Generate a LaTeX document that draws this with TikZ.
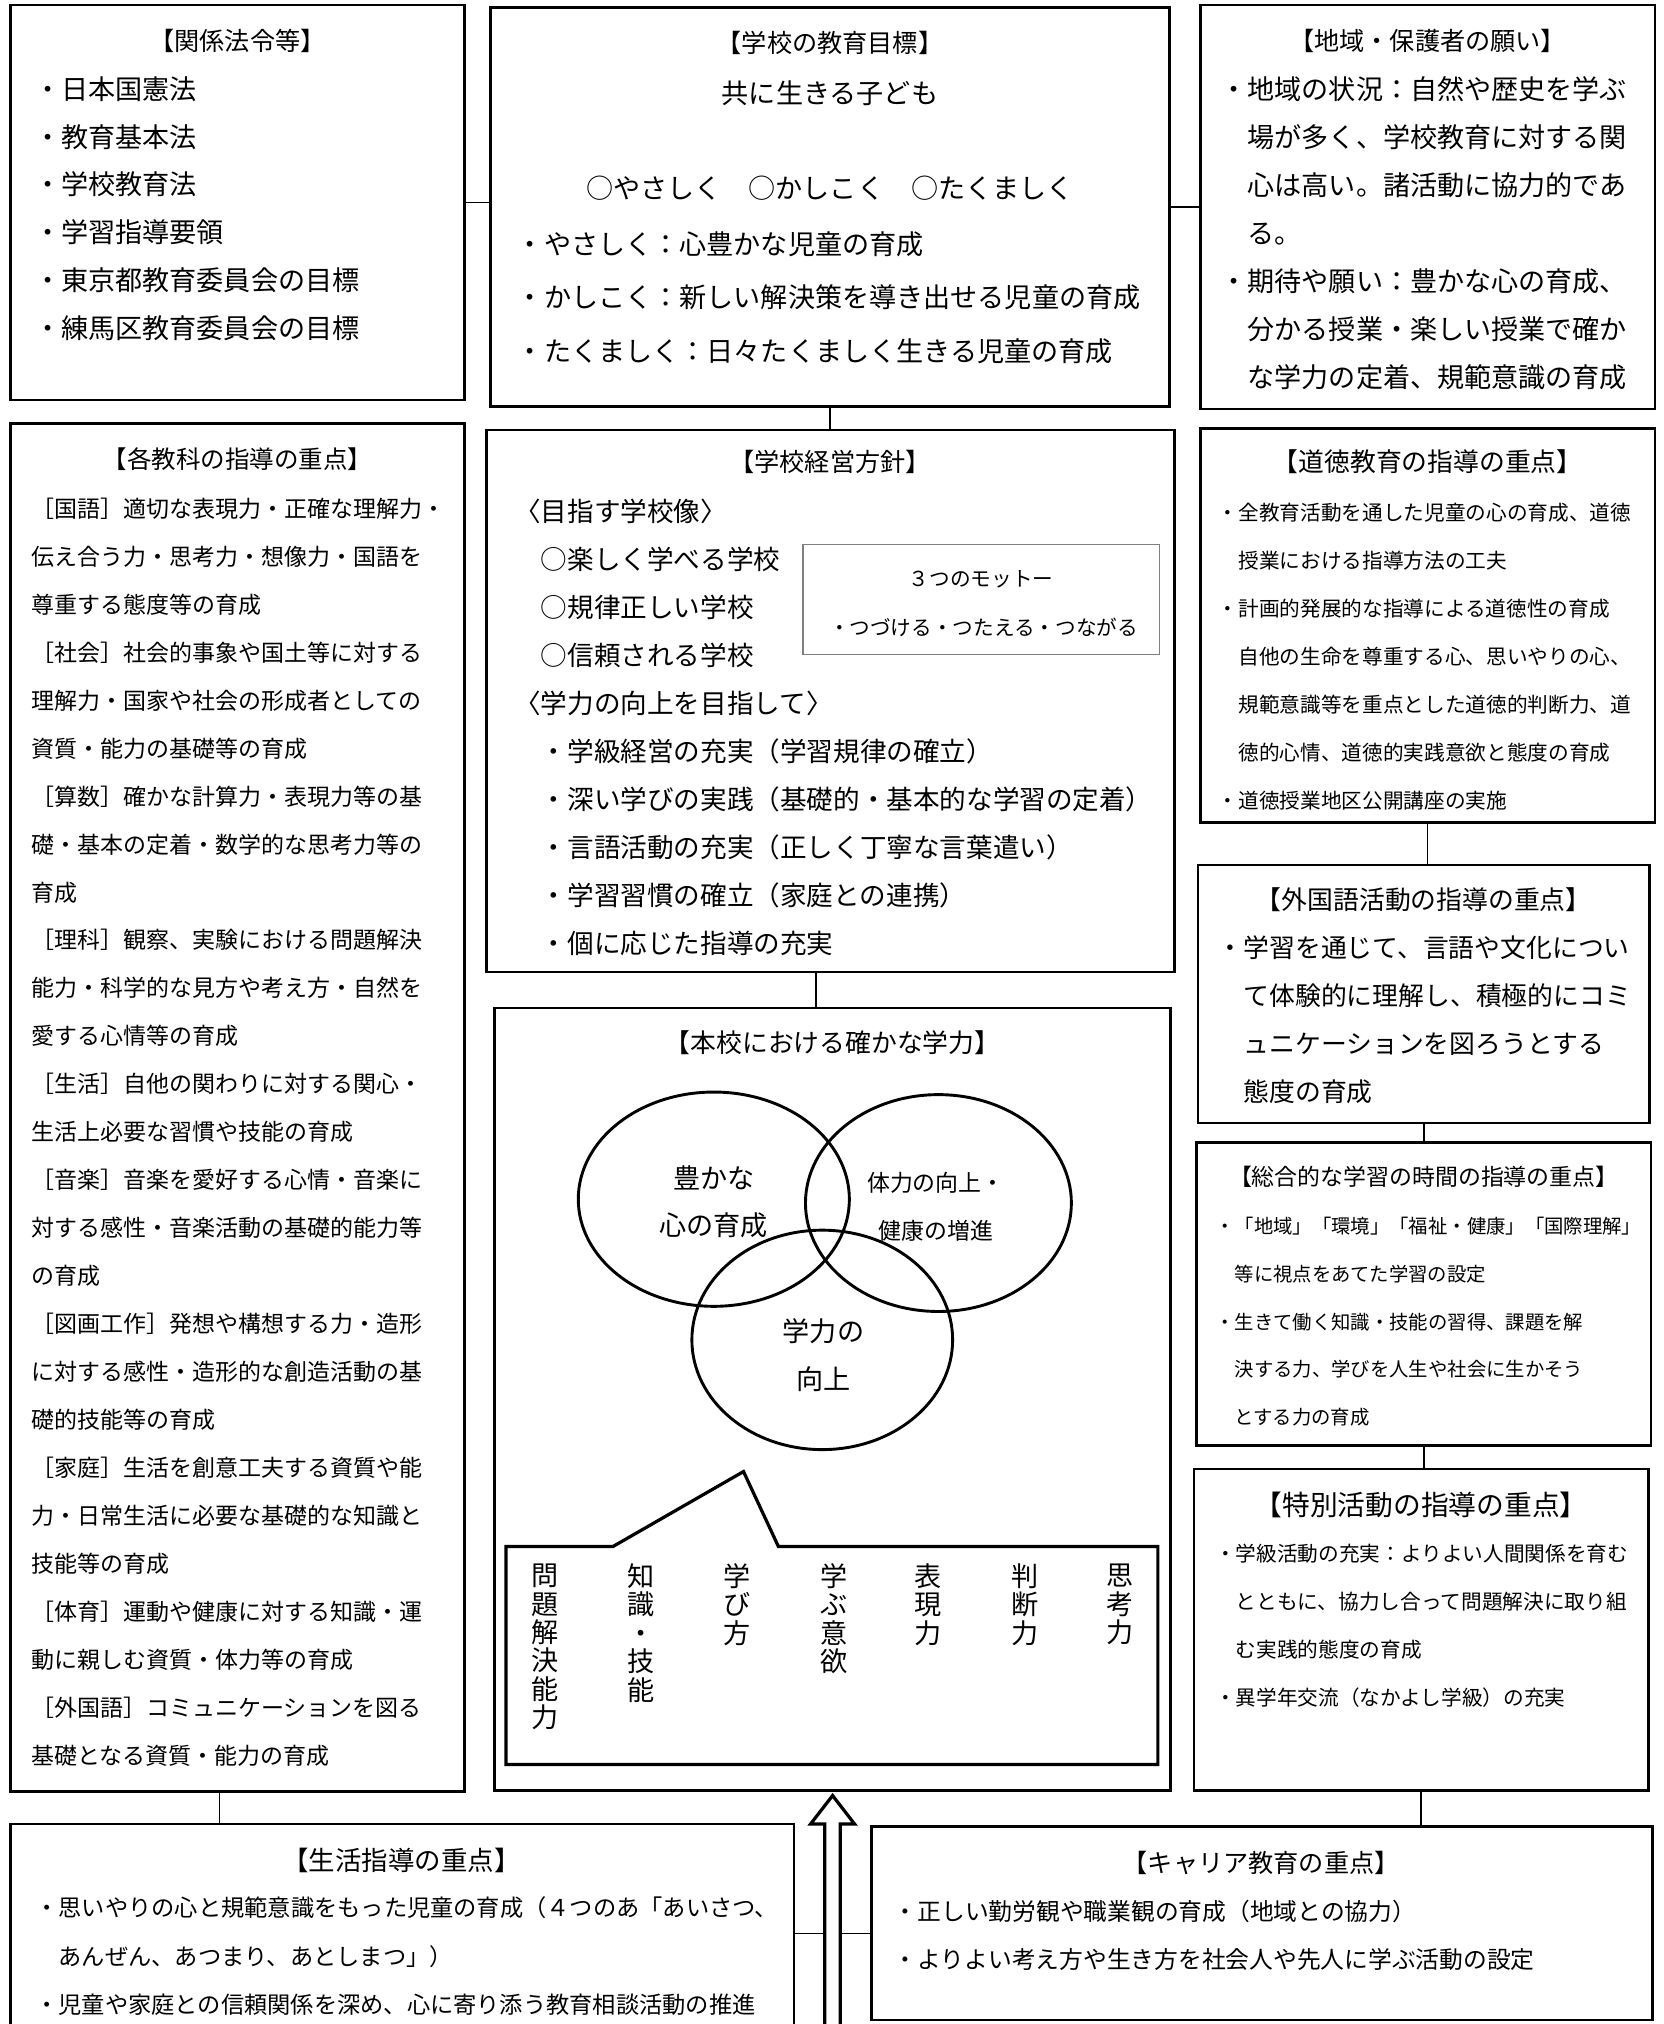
\documentclass[tikz,border=0pt]{standalone}
\usepackage{fontspec}
\setmainfont{Noto Sans CJK JP}
\usetikzlibrary{fit}
\newcommand{\fsz}[2]{\fontsize{#1}{#2}\selectfont}

\begin{document}
\begin{tikzpicture}[x=0.4pt, y=-0.4pt,
  frame/.style={draw, line width=0.8pt, inner sep=0pt},
  link/.style={line width=0.5pt},
  ttl/.style={inner sep=0pt},
  body/.style={inner sep=0pt, anchor=west, align=left},
  vert/.style={inner sep=0pt, align=center, font=\fsz{8.4pt}{8.8pt}}]
\useasboundingbox (0,0) rectangle (1289,1568);
\clip (0,0) rectangle (1289,1568);

\node[frame, fit={(8,4) (360,310)}] (hourei) {};
\node[frame, fit={(380,6) (906,315)}] (mokuhyo) {};
\node[frame, fit={(930,4) (1282,317)}] (negai) {};
\node[frame, fit={(377,333) (910,753)}] (houshin) {};
\node[draw, gray, line width=0.4pt, inner sep=0pt, fit={(622,422) (898,507)}] (motto) {};
\node[frame, fit={(383,781) (907,1387)}] (gakuryoku) {};
\node[frame, fit={(8,328) (360,1388)}] (kyouka) {};
\node[frame, fit={(930,332) (1282,637)}] (doutoku) {};
\node[frame, fit={(928,670) (1278,870)}] (gaikokugo) {};
\node[frame, fit={(927,885) (1279,1120)}] (sougou) {};
\node[frame, fit={(925,1138) (1277,1387)}] (tokkatsu) {};
\node[frame, fit={(8,1413) (615,1640)}] (seikatsu) {};
\node[frame, fit={(675,1415) (1280,1565)}] (career) {};

\draw[link] (hourei.east) -- (hourei.east -| mokuhyo.west);
\draw[link] (mokuhyo.east) -- (mokuhyo.east -| negai.west);
\draw[link] (mokuhyo.south) -- (mokuhyo.south |- houshin.north);
\coordinate (hg) at ([xshift=-4.6pt]houshin.south);
\draw[link] (hg) -- (hg |- gakuryoku.north);
\coordinate (ks) at ([xshift=-5.6pt]kyouka.south);
\draw[link] (ks) -- (ks |- seikatsu.north);
\draw[link] (doutoku.south) -- (doutoku.south |- gaikokugo.north);
\draw[link] (gaikokugo.south) -- (gaikokugo.south |- sougou.north);
\draw[link] (sougou.south) -- (sougou.south |- tokkatsu.north);
\draw[link] (tokkatsu.south) -- (tokkatsu.south |- career.north);
\coordinate (sc) at ([yshift=-34.4pt]seikatsu.north east);
\draw[link] (sc) -- (sc -| career.west);

\coordinate (tip) at ([yshift=-1.2pt]gakuryoku.south);
\draw[line width=1pt, fill=white] (tip) -- ++(-17,22) -- ++(11,0) -- ++(0,220) -- ++(12,0) -- ++(0,-220) -- ++(11,0) -- cycle;

\node[ttl, font=\fsz{7.8pt}{9pt}] (houreiT) at (184,32) {【関係法令等】};
\node[body, font=\fsz{8.4pt}{14.8pt}] (houreiB) at (26,161.5) {・日本国憲法\\
・教育基本法\\
・学校教育法\\
・学習指導要領\\
・東京都教育委員会の目標\\
・練馬区教育委員会の目標};

\node[ttl, font=\fsz{7.8pt}{9pt}] (mokuhyoT) at (643,33) {【学校の教育目標】};
\node[ttl, font=\fsz{8.4pt}{10pt}] (mokuhyoS) at (643,72) {共に生きる子ども};
\node[ttl, font=\fsz{8.4pt}{10pt}] (mokuhyoM) at (643,146) {○やさしく　○かしこく　○たくましく};
\node[body, font=\fsz{8.4pt}{16.6pt}] (mokuhyoB) at (400,230.5) {・やさしく：心豊かな児童の育成\\
・かしこく：新しい解決策を導き出せる児童の育成\\
・たくましく：日々たくましく生きる児童の育成};

\node[ttl, font=\fsz{7.8pt}{9pt}] (negaiT) at (1106,32) {【地域・保護者の願い】};
\node[body, font=\fsz{8.4pt}{14.88pt}] (negaiB) at (945,180.5) {・地域の状況：自然や歴史を学ぶ\\
　場が多く、学校教育に対する関\\
　心は高い。諸活動に協力的であ\\
　る。\\
・期待や願い：豊かな心の育成、\\
　分かる授業・楽しい授業で確か\\
　な学力の定着、規範意識の育成};

\node[ttl, font=\fsz{7.8pt}{9pt}] (houshinT) at (643,358) {【学校経営方針】};
\node[body, font=\fsz{8.24pt}{14.88pt}] (houshinB) at (398,563.5) {〈目指す学校像〉\\
　○楽しく学べる学校\\
　○規律正しい学校\\
　○信頼される学校\\
〈学力の向上を目指して〉\\
　・学級経営の充実（学習規律の確立）\\
　・深い学びの実践（基礎的・基本的な学習の定着）\\
　・言語活動の充実（正しく丁寧な言葉遣い）\\
　・学習習慣の確立（家庭との連携）\\
　・個に応じた指導の充実};
\node[ttl, font=\fsz{6.4pt}{8pt}] (mottoT) at (760,449) {３つのモットー};
\node[ttl, font=\fsz{6.4pt}{8pt}] (mottoB) at (762,486) {・つづける・つたえる・つながる};

\node[ttl, font=\fsz{8pt}{9pt}] (gakuryokuT) at (645,808) {【本校における確かな学力】};
\draw[line width=0.9pt] (553,929) ellipse [x radius=105, y radius=83];
\draw[line width=0.9pt] (727,932) ellipse [x radius=103, y radius=84];
\draw[line width=0.9pt] (637,1038) ellipse [x radius=101, y radius=85];
\node[ttl, align=center, font=\fsz{8.4pt}{14.8pt}] (kokoro) at (553,931) {豊かな\\心の育成};
\node[ttl, align=center, font=\fsz{7.1pt}{14.8pt}] (tairyoku) at (725,935) {体力の向上・\\健康の増進};
\node[ttl, align=center, font=\fsz{8.4pt}{14.8pt}] (koujou) at (638,1050) {学力の\\向上};
\draw[line width=1pt] (392,1198) -- (475,1198) -- (576,1140) -- (603,1198) -- (897,1198) -- (897,1367) -- (392,1367) -- cycle;
\node[vert] (mondai) at (422,1276) {問\\題\\解\\決\\能\\力};
\node[vert] (chishiki) at (497,1265) {知\\識\\・\\技\\能};
\node[vert] (manabikata) at (571,1243) {学\\び\\方};
\node[vert] (iyoku) at (646,1254) {学\\ぶ\\意\\欲};
\node[vert] (hyougen) at (719,1243) {表\\現\\力};
\node[vert] (handan) at (794,1243) {判\\断\\力};
\node[vert] (shikou) at (868,1243) {思\\考\\力};

\node[ttl, font=\fsz{7.6pt}{9pt}] (kyoukaT) at (184,356) {【各教科の指導の重点】};
\node[body, font=\fsz{7.12pt}{14.86pt}] (kyoukaB) at (24,877) {［国語］適切な表現力・正確な理解力・\\
伝え合う力・思考力・想像力・国語を\\
尊重する態度等の育成\\
［社会］社会的事象や国土等に対する\\
理解力・国家や社会の形成者としての\\
資質・能力の基礎等の育成\\
［算数］確かな計算力・表現力等の基\\
礎・基本の定着・数学的な思考力等の\\
育成\\
［理科］観察、実験における問題解決\\
能力・科学的な見方や考え方・自然を\\
愛する心情等の育成\\
［生活］自他の関わりに対する関心・\\
生活上必要な習慣や技能の育成\\
［音楽］音楽を愛好する心情・音楽に\\
対する感性・音楽活動の基礎的能力等\\
の育成\\
［図画工作］発想や構想する力・造形\\
に対する感性・造形的な創造活動の基\\
礎的技能等の育成\\
［家庭］生活を創意工夫する資質や能\\
力・日常生活に必要な基礎的な知識と\\
技能等の育成\\
［体育］運動や健康に対する知識・運\\
動に親しむ資質・体力等の育成\\
［外国語］コミュニケーションを図る\\
基礎となる資質・能力の育成};

\node[ttl, font=\fsz{8pt}{9pt}] (doutokuT) at (1106,358) {【道徳教育の指導の重点】};
\node[body, font=\fsz{6.4pt}{14.87pt}] (doutokuB) at (943,508.5) {・全教育活動を通した児童の心の育成、道徳\\
　授業における指導方法の工夫\\
・計画的発展的な指導による道徳性の育成\\
　自他の生命を尊重する心、思いやりの心、\\
　規範意識等を重点とした道徳的判断力、道\\
　徳的心情、道徳的実践意欲と態度の育成\\
・道徳授業地区公開講座の実施};

\node[ttl, font=\fsz{8pt}{9pt}] (gaikokugoT) at (1103,697) {【外国語活動の指導の重点】};
\node[body, font=\fsz{8pt}{14.92pt}] (gaikokugoB) at (943,790) {・学習を通じて、言語や文化につい\\
　て体験的に理解し、積極的にコミ\\
　ュニケーションを図ろうとする\\
　態度の育成};

\node[ttl, font=\fsz{7.1pt}{9pt}] (sougouT) at (1103,912) {【総合的な学習の時間の指導の重点】};
\node[body, font=\fsz{6pt}{14.8pt}] (sougouB) at (941,1024) {・「地域」「環境」「福祉・健康」「国際理解」\\
　等に視点をあてた学習の設定\\
・生きて働く知識・技能の習得、課題を解\\
　決する力、学びを人生や社会に生かそう\\
　とする力の育成};

\node[ttl, font=\fsz{8.6pt}{10pt}] (tokkatsuT) at (1101,1166) {【特別活動の指導の重点】};
\node[body, font=\fsz{6.4pt}{14.8pt}] (tokkatsuB) at (941,1259.5) {・学級活動の充実：よりよい人間関係を育む\\
　とともに、協力し合って問題解決に取り組\\
　む実践的態度の育成\\
・異学年交流（なかよし学級）の充実};

\node[ttl, font=\fsz{8.2pt}{10pt}] (seikatsuT) at (311,1441) {【生活指導の重点】};
\node[body, font=\fsz{7.2pt}{15pt}] (seikatsuB) at (27,1515.5) {・思いやりの心と規範意識をもった児童の育成（４つのあ「あいさつ、\\
　あんぜん、あつまり、あとしまつ」）\\
・児童や家庭との信頼関係を深め、心に寄り添う教育相談活動の推進};

\node[ttl, font=\fsz{7.8pt}{9pt}] (careerT) at (977,1443) {【キャリア教育の重点】};
\node[body, font=\fsz{7.36pt}{14.8pt}] (careerB) at (692,1499.5) {・正しい勤労観や職業観の育成（地域との協力）\\
・よりよい考え方や生き方を社会人や先人に学ぶ活動の設定};
\end{tikzpicture}
\end{document}
